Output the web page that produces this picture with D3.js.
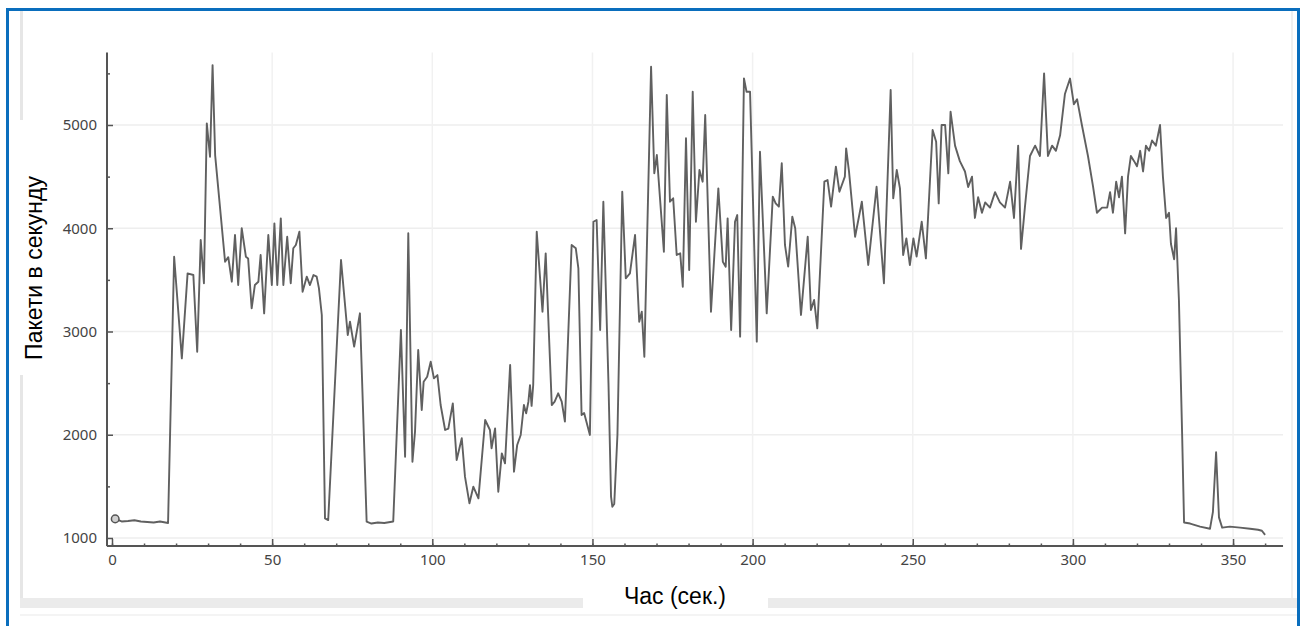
<!DOCTYPE html>
<html><head><meta charset="utf-8">
<script src="https://cdn.jsdelivr.net/npm/d3@7"></script>
<style>body{margin:0;background:#fff;} svg{display:block}</style>
</head><body>
<svg id="chart" width="1307" height="626"></svg>
<script>
const times = [1,3,5,7,9,11,13,15,17.5,19.4,21.8,23.6,25.4,26.6,27.7,28.7,29.6,30.6,31.4,32.2,35.3,36.3,37.4,38.4,39.4,40.5,41.8,42.5,43.6,44.6,45.7,46.4,47.5,48.8,49.9,50.7,51.6,52.7,53.5,54.7,55.8,56.6,57.4,58.5,59.5,60.8,61.8,62.9,63.9,64.6,65.5,66.5,67.5,71.5,73.6,74.3,75.6,77.4,79.5,81,83,85,87.8,90.2,91.5,92.5,93.8,94.6,95.6,96.7,97.3,98.4,99.5,100.5,101.6,102.6,104,105,106.4,107.6,109.2,110.2,111.6,112.8,114.4,116.5,118,118.5,119.6,120.6,121.7,122.7,124.3,125.5,126.5,127.6,128.6,129.3,130,130.5,131,131.5,132.6,134.4,135.4,137.3,138.2,139.3,140.4,141.4,143.5,144.8,145.6,146.6,147.4,149.2,150.3,151.3,152.4,153.4,155,155.8,156.2,156.8,157.8,159.3,160.4,161.7,163.3,164.6,165.4,166.2,168.3,169.3,170.1,172.3,173.2,174.2,175.2,176.3,177.4,178.2,179.2,180.2,181.3,182.3,183.4,184.4,185.2,187,189.3,190.7,191.6,192.2,193.3,194.5,195.2,196.1,197.3,198.1,199.2,201.3,202.3,204.4,206.3,207.2,208.2,209.1,210.1,211.1,212.4,213.3,215.1,217.2,218.2,219.2,220.2,222.4,223.4,224.5,226,227.1,228.8,229.2,230.1,232,234.1,236.1,238.7,241,243.1,243.9,245,246,247,248,249.1,250.2,251.2,252.8,254.1,256.2,257.3,258.1,259,260.1,261.1,261.8,263.2,264.7,266.3,267.3,268.5,269.4,270.4,271.6,272.6,274.1,275.7,277.2,278.8,280.4,281.6,282.9,283.8,285,286.6,288.2,289.7,291,292.2,293.5,294.7,296,297.5,299.1,300.3,301.3,302.8,304.7,306.3,307.5,309.1,310.7,311.6,312.5,313.5,314.4,315.3,316.3,317.2,318.1,319.1,320,321,321.9,322.8,323.8,324.7,325.9,327.2,328.1,329.1,330,330.6,331.6,332.2,333.1,334.1,334.7,336.6,339.7,342.8,343.7,344.7,345.6,346.6,349,352.2,355.3,357.8,359,360];
const packets = [1185,1160,1165,1172,1160,1155,1150,1160,1145,3724,2740,3563,3547,2804,3886,3467,5016,4693,5580,4709,3676,3720,3482,3935,3450,4000,3724,3708,3225,3450,3482,3741,3176,3935,3450,4047,3450,4096,3450,3918,3467,3806,3838,3967,3385,3531,3450,3547,3531,3420,3160,1190,1174,3692,2966,3095,2853,3176,1158,1140,1150,1145,1160,3014,1787,3951,1739,2030,2821,2240,2514,2562,2708,2546,2578,2288,2046,2060,2304,1755,1966,1594,1336,1497,1384,2143,2046,1869,2062,1448,1820,1723,2676,1642,1901,1998,2288,2207,2320,2480,2280,2482,3967,3192,3757,2288,2320,2401,2320,2127,3838,3806,3612,2191,2210,1998,4063,4080,3014,4257,2500,1400,1303,1330,2000,4354,3515,3563,3935,3095,3192,2756,5565,4532,4709,3773,5290,4257,4290,3741,3757,3434,4871,3596,5322,4063,4564,4451,5097,3192,4386,3676,3628,4096,3014,4063,4128,2950,5452,5322,5322,2902,4741,3176,4306,4241,4209,4629,3838,3628,4112,4000,3160,3918,3208,3305,3031,4451,4467,4209,4596,4354,4500,4774,4548,3918,4257,3644,4402,3467,5339,4290,4564,4386,3741,3902,3644,3902,3725,4063,3708,4951,4838,4241,5000,5000,4532,5129,4800,4650,4550,4400,4500,4100,4300,4150,4250,4200,4350,4250,4200,4450,4100,4800,3800,4200,4700,4800,4700,5500,4700,4800,4750,4900,5300,5450,5200,5250,5000,4700,4400,4150,4200,4200,4350,4150,4450,4300,4500,3950,4500,4700,4650,4600,4750,4550,4800,4750,4850,4800,5000,4500,4100,4150,3850,3700,4000,3300,2000,1150,1140,1110,1090,1250,1830,1200,1100,1110,1100,1090,1080,1070,1030];
const xTickValues = [0,50,100,150,200,250,300,350];
const xMinorValues = d3.range(0,361,10);
const yTickValues = [1000,2000,3000,4000,5000];
const yMinorValues = [1500,2500,3500,4500,5500];
const xLabel = "Час (сек.)";
const yLabel = "Пакети в секунду";

const svg = d3.select("#chart");
const x = d3.scaleLinear().domain([0,360]).range([112,1265.1]);
const y = d3.scaleLinear().domain([1000,5000]).range([538,125]);
const fmt = d3.format("d");

// window decorations
svg.append("rect").attr("x",20).attr("y",11).attr("width",3).attr("height",590).attr("fill","#e6e6e6");
svg.append("rect").attr("x",1291).attr("y",11).attr("width",2).attr("height",590).attr("fill","#f0f0f0");
svg.append("rect").attr("x",20).attr("y",598).attr("width",1278).attr("height",10).attr("fill","#ebebeb");
svg.append("rect").attr("x",20).attr("y",614).attr("width",1278).attr("height",2).attr("fill","#f4f4f4");

// grid
const grid = svg.append("g");
grid.selectAll("line.h").data(yTickValues).join("line")
  .attr("x1",x(-1.6)).attr("x2",x(365.6)).attr("y1",d=>y(d)).attr("y2",d=>y(d))
  .attr("stroke","#eeeeee").attr("stroke-width",1.5);
grid.selectAll("line.v").data(xTickValues.slice(1)).join("line")
  .attr("y1",y(5703)).attr("y2",y(922)).attr("x1",d=>x(d)).attr("x2",d=>x(d))
  .attr("stroke","#f1f1f1").attr("stroke-width",1.5);

// axes
const yAxis = svg.append("g").attr("transform","translate(107,0)")
  .call(d3.axisLeft(y).tickValues(yTickValues).tickFormat(fmt).tickSize(-6).tickPadding(10));
const yMinor = svg.append("g").attr("transform","translate(107,0)")
  .call(d3.axisLeft(y).tickValues(yMinorValues).tickSize(-3).tickFormat(""));
const xAxis = svg.append("g").attr("transform","translate(0,546)")
  .call(d3.axisBottom(x).tickValues(xTickValues).tickFormat(fmt).tickSize(-7).tickPadding(8));
const xMinor = svg.append("g").attr("transform","translate(0,546)")
  .call(d3.axisBottom(x).tickValues(xMinorValues).tickSize(-2.5).tickFormat(""));
[yAxis,yMinor,xAxis,xMinor].forEach(g=>{
  g.select(".domain").remove();
  g.selectAll(".tick line").attr("stroke","#555").attr("stroke-width",1.5);
  g.selectAll(".tick text").attr("fill","#444").style("font-family","'Noto Sans', sans-serif").style("font-size","15px");
});
svg.append("line").attr("x1",107).attr("x2",107).attr("y1",y(5703)).attr("y2",y(922))
  .attr("stroke","#555").attr("stroke-width",2);
svg.append("line").attr("y1",546).attr("y2",546).attr("x1",x(-1.6)).attr("x2",x(365.6))
  .attr("stroke","#555").attr("stroke-width",2);

// data line
const idx = d3.range(times.length);
const line = d3.line().x(i=>x(times[i])).y(i=>y(packets[i]));
svg.append("path").datum(idx).attr("d",line).attr("fill","none")
  .attr("stroke","#606060").attr("stroke-width",1.9).attr("stroke-linejoin","round");
svg.append("circle").attr("cx",x(times[0])).attr("cy",y(packets[0])).attr("r",3.8)
  .attr("fill","#d0d0d0").attr("stroke","#555").attr("stroke-width",1.5);

// axis titles
svg.append("rect").attr("x",14).attr("y",120).attr("width",36).attr("height",255).attr("fill","#fff");
svg.append("text").attr("transform","translate(42,268) rotate(-90)").attr("text-anchor","middle")
  .style("font-family","'Liberation Sans', Arial, sans-serif").style("font-size","23px").attr("fill","#000").text(yLabel);
svg.append("rect").attr("x",583).attr("y",582).attr("width",185).attr("height",27).attr("fill","#fff");
svg.append("text").attr("x",675).attr("y",604).attr("text-anchor","middle")
  .style("font-family","'Liberation Sans', Arial, sans-serif").style("font-size","23px").attr("fill","#000").text(xLabel);

// blue frame
svg.append("rect").attr("x",6).attr("y",8).attr("width",1294).attr("height",3).attr("fill","#0a6ebd");
svg.append("rect").attr("x",6).attr("y",8).attr("width",3).attr("height",618).attr("fill","#0a6ebd");
svg.append("rect").attr("x",1297).attr("y",8).attr("width",3).attr("height",618).attr("fill","#0a6ebd");
</script>
</body></html>
